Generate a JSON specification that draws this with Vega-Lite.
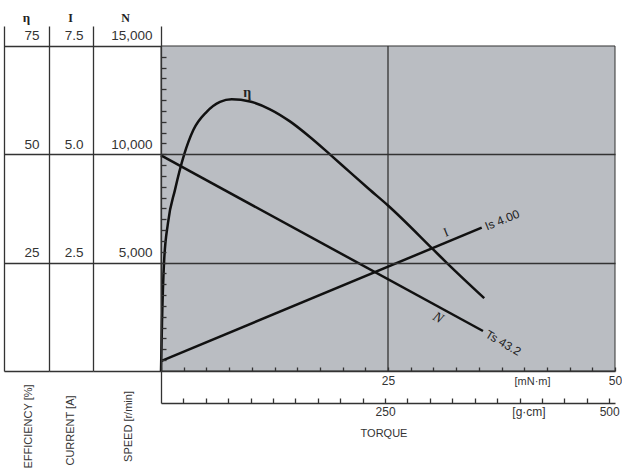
{
  "$schema": "https://vega.github.io/schema/vega-lite/v6.json",
  "width": 454,
  "height": 345,
  "autosize": {"type": "none"},
  "padding": {"left": 161, "top": 26, "right": 7, "bottom": 103},
  "background": "white",
  "config": {
    "view": {"stroke": null},
    "axis": {
      "domainColor": "#333", "tickColor": "#333", "domainWidth": 1.3, "tickWidth": 1.3,
      "labelFont": "Liberation Sans", "titleFont": "Liberation Sans",
      "labelColor": "#333", "titleColor": "#333",
      "labelFlush": false, "labelOverlap": false, "labelBound": false,
      "grid": false, "titleFontWeight": "normal"
    }
  },
  "datasets": {
    "eta": [
      {"torque": 0, "eta": 0}, {"torque": 0.11, "eta": 11.1}, {"torque": 0.33, "eta": 24.9},
      {"torque": 0.77, "eta": 34.2}, {"torque": 1.54, "eta": 41.8}, {"torque": 2.53, "eta": 49.8},
      {"torque": 3.56, "eta": 55.6}, {"torque": 5.03, "eta": 59.8}, {"torque": 6.5, "eta": 62.1},
      {"torque": 7.79, "eta": 62.7}, {"torque": 9.8, "eta": 62.2}, {"torque": 12.0, "eta": 60.4},
      {"torque": 14.2, "eta": 57.6}, {"torque": 16.4, "eta": 54.0}, {"torque": 18.6, "eta": 50.0},
      {"torque": 20.8, "eta": 45.9}, {"torque": 22.9, "eta": 42.0}, {"torque": 25.0, "eta": 38.2},
      {"torque": 30.0, "eta": 28.0}, {"torque": 31.5, "eta": 24.9}, {"torque": 35.6, "eta": 16.8}
    ],
    "current": [{"torque": 0, "current": 0.23}, {"torque": 35.32, "current": 3.307}],
    "speed": [{"torque": 0, "speed": 9950}, {"torque": 35.46, "speed": 1846}],
    "etaLabel": [{"torque": 9.5, "eta": 64.2, "text": "η"}],
    "currentLabel": [{"torque": 31.4, "current": 3.21, "text": "I"}],
    "currentEnd": [{"torque": 35.32, "current": 3.307, "text": "Is 4.00"}],
    "speedLabel": [{"torque": 30.5, "speed": 2469, "text": "N"}],
    "speedEnd": [{"torque": 35.46, "speed": 1846, "text": "Ts 43.2"}]
  },
  "resolve": {"scale": {"x": "independent", "y": "independent"}},
  "layer": [
    {
      "data": {"values": [{}]},
      "mark": {"type": "rect", "fill": "#babdc2", "stroke": "#333", "strokeWidth": 1},
      "encoding": {
        "x": {
          "datum": 0, "type": "quantitative", "scale": {"domain": [0, 506.5]},
          "axis": {
            "orient": "bottom", "offset": 32,
            "values": [0, 25, 50, 75, 100, 125, 150, 175, 200, 225, 250, 275, 300, 325, 350, 375, 400, 425, 450, 475, 500],
            "tickSize": {"condition": {"test": "datum.value == 0", "value": -32}, "value": -5},
            "labelExpr": "datum.value == 250 || datum.value == 500 ? datum.label : (datum.value == 400 ? '[g·cm]' : '')",
            "labelOffset": {"condition": {"test": "datum.value == 400", "value": 9}, "value": 0},
            "labelPadding": 8, "labelFontSize": 12, "labelBaseline": "top",
            "title": "TORQUE", "titleX": 222.5, "titleY": 30, "titleFontSize": 11,
            "titleAlign": "center", "titleBaseline": "middle"
          }
        },
        "x2": {"datum": 506.5},
        "y": {
          "datum": 0, "type": "quantitative", "scale": {"domain": [0, 79.615]},
          "axis": {
            "orient": "right", "offset": -454,
            "values": [2.5, 5, 7.5, 10, 12.5, 15, 17.5, 20, 22.5, 25, 27.5, 30, 32.5, 35, 37.5, 40, 42.5, 45, 47.5, 50, 52.5, 55, 57.5, 60, 62.5, 65, 67.5, 70, 72.5],
            "tickSize": 5, "labels": false, "title": null,
            "grid": true,
            "gridOpacity": {"condition": {"test": "datum.value == 25 || datum.value == 50", "value": 1}, "value": 0},
            "gridColor": "#333", "gridWidth": 1.3, "zindex": 1
          }
        },
        "y2": {"datum": 75}
      }
    },
    {
      "data": {"values": [{}]},
      "mark": {"type": "rule", "color": "#333", "strokeWidth": 1.3},
      "encoding": {
        "x": {"datum": 25, "type": "quantitative", "scale": {"domain": [0, 50]}, "axis": null},
        "y": {"datum": 0, "type": "quantitative", "scale": {"domain": [0, 79.615]}, "axis": null},
        "y2": {"datum": 75}
      }
    },
    {
      "data": {"name": "eta"},
      "mark": {"type": "line", "color": "#111", "strokeWidth": 2.5, "interpolate": "monotone"},
      "encoding": {
        "x": {
          "field": "torque", "type": "quantitative", "scale": {"domain": [0, 50]},
          "axis": {
            "orient": "bottom", "offset": 0,
            "values": [0, 2.5, 5, 7.5, 10, 12.5, 15, 17.5, 20, 22.5, 25, 27.5, 30, 32.5, 35, 37.5, 40, 42.5, 45, 47.5, 50],
            "tickSize": -4,
            "labelExpr": "datum.value == 25 || datum.value == 50 ? datum.label : ''",
            "labelPadding": 8, "labelFontSize": 12, "labelBaseline": "top",
            "title": "[mN·m]", "titleX": 353, "titleY": 10, "titleAlign": "left",
            "titleBaseline": "middle", "titleFontSize": 11, "zindex": 1
          }
        },
        "y": {
          "field": "eta", "type": "quantitative", "scale": {"domain": [0, 79.615]},
          "axis": {
            "orient": "left", "offset": 157, "values": [0, 25, 50, 75],
            "tickSize": -45, "labelPadding": 10, "labelAlign": "right",
            "labelBaseline": "alphabetic", "labelOffset": -6, "labelFontSize": 13.5,
            "labelExpr": "datum.value == 0 ? '' : datum.label",
            "title": "EFFICIENCY [%]", "titleAngle": 270, "titleX": 24, "titleY": 400,
            "titleAlign": "center", "titleBaseline": "middle", "titleFontSize": 11
          }
        }
      }
    },
    {
      "data": {"name": "etaLabel"},
      "mark": {"type": "text", "font": "Liberation Serif", "fontWeight": "bold", "fontSize": 14, "color": "#222"},
      "encoding": {
        "x": {"field": "torque", "type": "quantitative", "scale": {"domain": [0, 50]}, "axis": null},
        "y": {
          "field": "eta", "type": "quantitative", "scale": {"domain": [0, 79.615]},
          "axis": {
            "orient": "left", "offset": 0, "domain": false, "ticks": false, "labels": false,
            "title": "η", "titleAngle": 0, "titleX": -135, "titleY": -9,
            "titleFont": "Liberation Serif", "titleFontWeight": "bold", "titleFontSize": 13,
            "titleColor": "#222", "titleAlign": "center", "titleBaseline": "middle"
          }
        },
        "text": {"field": "text"}
      }
    },
    {
      "data": {"name": "current"},
      "mark": {"type": "line", "color": "#111", "strokeWidth": 2.5},
      "encoding": {
        "x": {"field": "torque", "type": "quantitative", "scale": {"domain": [0, 50]}, "axis": null},
        "y": {
          "field": "current", "type": "quantitative", "scale": {"domain": [0, 7.9615]},
          "axis": {
            "orient": "left", "offset": 112, "values": [0, 2.5, 5, 7.5], "format": ".1f",
            "tickSize": -44, "labelPadding": 10, "labelAlign": "right",
            "labelBaseline": "alphabetic", "labelOffset": -6, "labelFontSize": 13.5,
            "labelExpr": "datum.value == 0 ? '' : datum.label",
            "title": "CURRENT [A]", "titleAngle": 270, "titleX": 21, "titleY": 404,
            "titleAlign": "center", "titleBaseline": "middle", "titleFontSize": 11
          }
        }
      }
    },
    {
      "layer": [
        {
          "data": {"name": "currentLabel"},
          "mark": {"type": "text", "font": "Liberation Serif", "fontSize": 13, "color": "#222", "angle": 338},
          "encoding": {
            "x": {"field": "torque", "type": "quantitative", "scale": {"domain": [0, 50]}, "axis": null},
            "y": {
              "field": "current", "type": "quantitative", "scale": {"domain": [0, 7.9615]},
              "axis": {
                "orient": "left", "offset": 0, "domain": false, "ticks": false, "labels": false,
                "title": "I", "titleAngle": 0, "titleX": -91, "titleY": -9,
                "titleFont": "Liberation Serif", "titleFontWeight": "bold", "titleFontSize": 12,
                "titleColor": "#222", "titleAlign": "center", "titleBaseline": "middle"
              }
            },
            "text": {"field": "text"}
          }
        },
        {
          "data": {"name": "currentEnd"},
          "mark": {"type": "text", "font": "Liberation Sans", "fontSize": 12, "color": "#222", "angle": 338, "align": "left", "baseline": "middle", "dx": 4},
          "encoding": {
            "x": {"field": "torque", "type": "quantitative"},
            "y": {"field": "current", "type": "quantitative"},
            "text": {"field": "text"}
          }
        }
      ]
    },
    {
      "data": {"name": "speed"},
      "mark": {"type": "line", "color": "#111", "strokeWidth": 2.5},
      "encoding": {
        "x": {"field": "torque", "type": "quantitative", "scale": {"domain": [0, 50]}, "axis": null},
        "y": {
          "field": "speed", "type": "quantitative", "scale": {"domain": [0, 15923]},
          "axis": {
            "orient": "left", "offset": 68, "values": [0, 5000, 10000, 15000], "format": ",.0f",
            "tickSize": -68, "labelPadding": 9, "labelAlign": "right",
            "labelBaseline": "alphabetic", "labelOffset": -6, "labelFontSize": 13.5,
            "labelExpr": "datum.value == 0 ? '' : datum.label",
            "title": "SPEED [r/min]", "titleAngle": 270, "titleX": 35, "titleY": 400,
            "titleAlign": "center", "titleBaseline": "middle", "titleFontSize": 11
          }
        }
      }
    },
    {
      "layer": [
        {
          "data": {"name": "speedLabel"},
          "mark": {"type": "text", "font": "Liberation Serif", "fontStyle": "italic", "fontSize": 14, "color": "#222", "angle": 30},
          "encoding": {
            "x": {"field": "torque", "type": "quantitative", "scale": {"domain": [0, 50]}, "axis": null},
            "y": {
              "field": "speed", "type": "quantitative", "scale": {"domain": [0, 15923]},
              "axis": {
                "orient": "left", "offset": 0, "domain": false, "ticks": false, "labels": false,
                "title": "N", "titleAngle": 0, "titleX": -36, "titleY": -9,
                "titleFont": "Liberation Serif", "titleFontWeight": "bold", "titleFontSize": 12,
                "titleColor": "#222", "titleAlign": "center", "titleBaseline": "middle"
              }
            },
            "text": {"field": "text"}
          }
        },
        {
          "data": {"name": "speedEnd"},
          "mark": {"type": "text", "font": "Liberation Sans", "fontSize": 12, "color": "#222", "angle": 30, "align": "left", "baseline": "middle", "dx": 4},
          "encoding": {
            "x": {"field": "torque", "type": "quantitative"},
            "y": {"field": "speed", "type": "quantitative"},
            "text": {"field": "text"}
          }
        }
      ]
    }
  ]
}
